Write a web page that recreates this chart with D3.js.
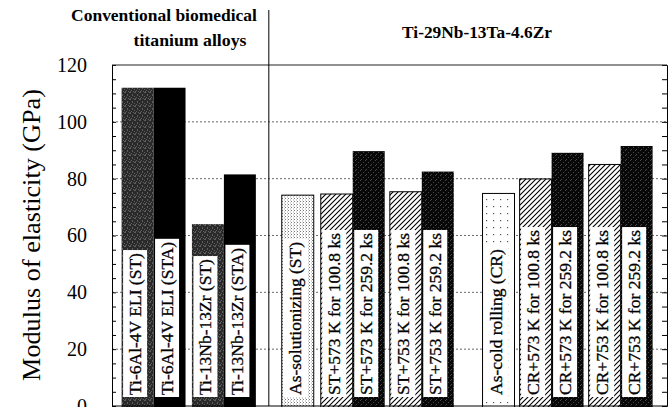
<!DOCTYPE html>
<html><head><meta charset="utf-8">
<script src="https://cdn.jsdelivr.net/npm/d3@7"></script>
<style>
html,body{margin:0;padding:0;background:#fff;}
svg{display:block;}
text{font-family:"Liberation Serif","Times New Roman",serif;fill:#000;}
</style></head>
<body>
<svg id="chart" width="670" height="407"></svg>
<script>
// ---- data ----
const categories = [
  "Ti-6Al-4V ELI (ST)", "Ti-6Al-4V ELI (STA)", "Ti-13Nb-13Zr (ST)", "Ti-13Nb-13Zr (STA)",
  "As-solutionizing (ST)", "ST+573 K for 100.8 ks", "ST+573 K for 259.2 ks",
  "ST+753 K for 100.8 ks", "ST+753 K for 259.2 ks",
  "As-cold rolling (CR)", "CR+573 K for 100.8 ks", "CR+573 K for 259.2 ks",
  "CR+753 K for 100.8 ks", "CR+753 K for 259.2 ks"
];
const modulus = [112, 112, 64, 81.5, 74.2, 74.6, 89.7, 75.4, 82.5, 74.8, 79.9, 89.1, 85, 91.5];
const groupNames = ["Conventional biomedical titanium alloys", "Ti-29Nb-13Ta-4.6Zr"];
const groupOf = [0,0,0,0,1,1,1,1,1,1,1,1,1,1];
const yTicks = [0, 20, 40, 60, 80, 100, 120];
const yLabel = "Modulus of elasticity (GPa)";

// ---- layout (not data) ----
const pL = 112, pR = 667, pT = 65, pB = 406;
const gapBefore = [0.3, 0, 0.2, 0, 0.81, 0.22, 0, 0.16, 0, 0.9, 0.16, 0, 0.16, 0];
const gapAfter = 0.45;
const starts = [];
let acc = 0;
gapBefore.forEach((g, i) => { acc += g; starts.push(acc); acc += 1; });
const totalUnits = acc + gapAfter;
const x = d3.scaleLinear().domain([0, totalUnits]).range([pL, pR]);
const bw = x(1) - x(0);
const y = d3.scaleLinear().domain([0, 120]).range([pB, pT]);

const fills = ["url(#grain)", "#000", "url(#grain)", "#000",
  "url(#stipple)", "url(#hatch)", "url(#speck)", "url(#hatch)", "url(#speck)",
  "url(#sparse)", "url(#hatch)", "url(#speck)", "url(#hatch)", "url(#speck)"];
const boxed = [false,false,false,false,true,true,false,true,false,true,true,false,true,false];

const svg = d3.select("#chart");
const defs = svg.append("defs");

function fit(t, target) {
  const fs = parseFloat(t.attr("font-size"));
  const len = t.node().getComputedTextLength();
  t.attr("font-size", fs * target / len);
  return t;
}

let p = defs.append("pattern").attr("id","grain").attr("patternUnits","userSpaceOnUse").attr("width",5).attr("height",7);
p.append("rect").attr("width",5).attr("height",7).attr("fill","#2a2a2a");
[[0,0],[0,1],[2,3],[2,4],[4,1],[4,5],[1,6],[3,0]].forEach(([a,b])=>p.append("rect").attr("x",a).attr("y",b).attr("width",1).attr("height",1).attr("fill","#5e5e5e"));
p = defs.append("pattern").attr("id","speck").attr("patternUnits","userSpaceOnUse").attr("width",5).attr("height",5);
p.append("rect").attr("width",5).attr("height",5).attr("fill","#080808");
[[0,0],[3,2],[1,4]].forEach(([a,b])=>p.append("rect").attr("x",a).attr("y",b).attr("width",1).attr("height",1).attr("fill","#4a4a4a"));
p = defs.append("pattern").attr("id","hatch").attr("patternUnits","userSpaceOnUse").attr("width",5).attr("height",5);
p.append("rect").attr("width",5).attr("height",5).attr("fill","#fff");
p.append("path").attr("d","M-1,6 L6,-1 M-1,1 L1,-1 M4,6 L6,4").attr("stroke","#000").attr("stroke-width",1.1);
p = defs.append("pattern").attr("id","stipple").attr("patternUnits","userSpaceOnUse").attr("width",3).attr("height",3);
p.append("rect").attr("width",3).attr("height",3).attr("fill","#fff");
p.append("rect").attr("x",0).attr("y",0).attr("width",1).attr("height",1).attr("fill","#777");
p.append("rect").attr("x",2).attr("y",1.5).attr("width",1).attr("height",1).attr("fill","#aaa");
p = defs.append("pattern").attr("id","sparse").attr("patternUnits","userSpaceOnUse").attr("width",7).attr("height",7);
p.append("rect").attr("width",7).attr("height",7).attr("fill","#fff");
p.append("rect").attr("x",3).attr("y",3).attr("width",1.2).attr("height",1.2).attr("fill","#555");

// gridlines
svg.append("g").selectAll("line").data(yTicks.filter(v => v > 0 && v < 120)).join("line")
  .attr("x1", pL).attr("x2", pR).attr("y1", d => y(d)).attr("y2", d => y(d))
  .attr("stroke", "#444").attr("stroke-width", 0.8).attr("stroke-dasharray", "2,2");

// bars
const bars = svg.append("g");
const data = categories.map((c, i) => ({c, v: modulus[i], i}));
bars.selectAll("rect.bar").data(data).join("rect").attr("class","bar")
  .attr("x", d => x(starts[d.i])).attr("width", bw)
  .attr("y", d => y(d.v)).attr("height", d => y(0) - y(d.v) + 2)
  .attr("fill", d => fills[d.i])
  .attr("stroke", d => boxed[d.i] ? "#000" : "none").attr("stroke-width", 1);

// labels
const lab = svg.append("g");
data.forEach(d => {
  const cx = x(starts[d.i]) + 13.5;
  const g = lab.append("g");
  const box = g.append("rect");
  const t = g.append("text").attr("transform", `translate(${cx},395) rotate(-90)`)
    .attr("dominant-baseline", "central").attr("font-size", 17.5)
    .attr("stroke", "#000").attr("stroke-width", 0.3).text(d.c);
  const len = t.node().getComputedTextLength();
  box.attr("x", x(starts[d.i]) + 1.5).attr("width", 24)
    .attr("y", 395 - len - 3).attr("height", len + 5).attr("fill", "#fff");
});

// axes
svg.append("g").attr("transform", `translate(${pL},0)`)
  .call(d3.axisRight(y).tickValues(d3.range(0, 121, 5)).tickSize(4).tickFormat(""))
  .call(g => g.selectAll("path,line").attr("stroke", "#000"));
svg.append("g").attr("transform", `translate(${pR},0)`)
  .call(d3.axisLeft(y).tickValues(d3.range(0, 121, 5)).tickSize(5).tickFormat(""))
  .call(g => g.selectAll("path,line").attr("stroke", "#000"));
svg.append("g").attr("transform", `translate(${pL},0)`)
  .call(d3.axisLeft(y).tickValues(yTicks).tickSize(0).tickPadding(25))
  .call(g => g.select(".domain").remove())
  .call(g => g.selectAll("text").attr("font-family", "Liberation Serif, serif").attr("font-size", 20).attr("fill", "#000"));

// frame lines
svg.append("line").attr("x1", pL).attr("x2", pR).attr("y1", pT).attr("y2", pT).attr("stroke", "#222");
svg.append("line").attr("x1", pL).attr("x2", pR).attr("y1", pB).attr("y2", pB).attr("stroke", "#000");
const divX = (x(starts[3] + 1) + x(starts[4])) / 2;
svg.append("line").attr("x1", divX).attr("x2", divX).attr("y1", 10).attr("y2", pB).attr("stroke", "#000");

// group headers
const h1 = groupNames[0].split(" ");
fit(svg.append("text").attr("x", 164).attr("y", 21).attr("text-anchor", "middle")
  .attr("font-size", 17).attr("font-weight", "bold").text(h1.slice(0, 2).join(" ")), 186);
fit(svg.append("text").attr("x", 190).attr("y", 46).attr("text-anchor", "middle")
  .attr("font-size", 17).attr("font-weight", "bold").text(h1.slice(2).join(" ")), 113);
fit(svg.append("text").attr("x", 477).attr("y", 38).attr("text-anchor", "middle")
  .attr("font-size", 16).attr("font-weight", "bold").text(groupNames[1]), 150);

// y label
fit(svg.append("text").attr("transform", "translate(31,235) rotate(-90)")
  .attr("text-anchor", "middle").attr("dominant-baseline", "central")
  .attr("font-size", 24).text(yLabel), 292);
</script>
</body></html>
